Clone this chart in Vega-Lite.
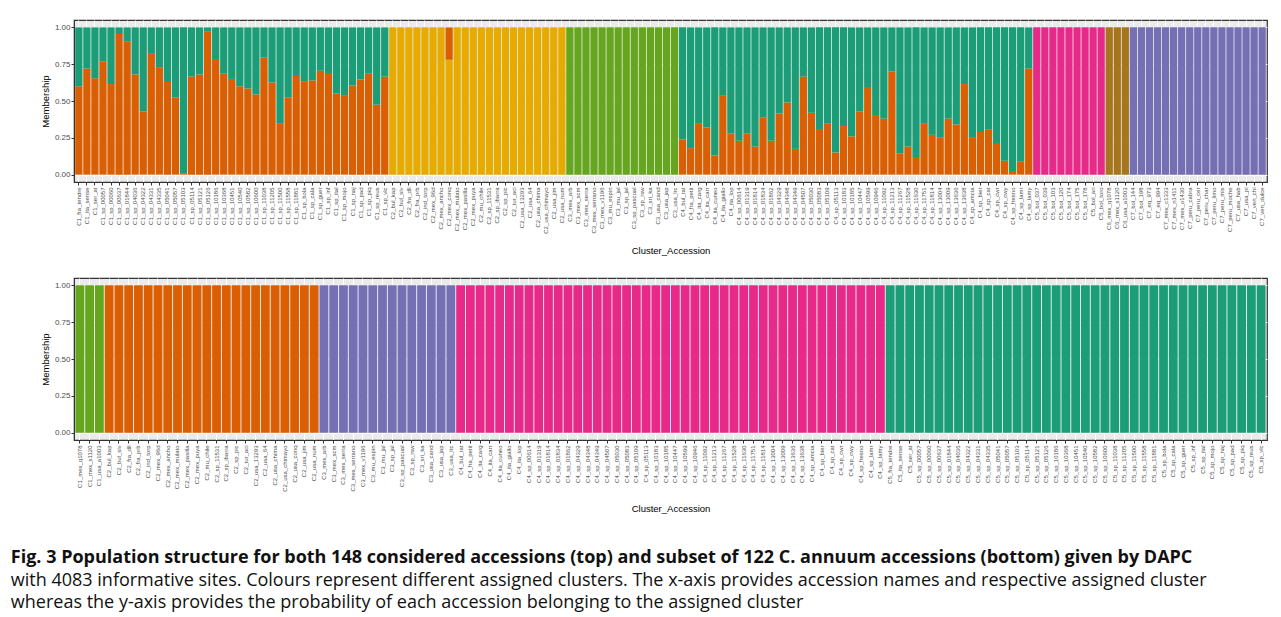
{
"$schema": "https://vega.github.io/schema/vega-lite/v6.json",
"padding": {"left": 10, "top": 19, "right": 5, "bottom": 5},
"background": "white",
"config": {
  "view": {"fill": "#EBEBEB", "stroke": "#333333", "strokeWidth": 1.2},
  "axis": {"labelFont": "Liberation Sans", "titleFont": "Liberation Sans", "labelColor": "#4D4D4D", "titleColor": "#000000", "titleFontWeight": "normal", "tickColor": "#333333", "tickSize": 3, "domainColor": "#333333", "gridColor": "#FFFFFF", "gridWidth": 1, "titleFontSize": 9.5},
  "axisX": {"labelAngle": -90, "labelFontSize": 6, "labelPadding": 2, "titlePadding": 12, "bandPosition": 0.5},
  "axisY": {"labelFontSize": 8, "labelPadding": 1, "titlePadding": 4},
  "bar": {"stroke": null}
},
"datasets": {
"top": [
{"acc":"C1_fra_tendre","k":"2","v":0.60},{"acc":"C1_fra_tendre","k":"1","v":0.40},
{"acc":"C1_ita_sense","k":"2","v":0.72},{"acc":"C1_ita_sense","k":"1","v":0.28},
{"acc":"C1_ser_at","k":"2","v":0.655},{"acc":"C1_ser_at","k":"1","v":0.345},
{"acc":"C1_sp_00057","k":"2","v":0.77},{"acc":"C1_sp_00057","k":"1","v":0.23},
{"acc":"C1_sp_00060","k":"2","v":0.615},{"acc":"C1_sp_00060","k":"1","v":0.385},
{"acc":"C1_sp_00637","k":"2","v":0.955},{"acc":"C1_sp_00637","k":"1","v":0.045},
{"acc":"C1_sp_01844","k":"2","v":0.905},{"acc":"C1_sp_01844","k":"1","v":0.095},
{"acc":"C1_sp_04036","k":"2","v":0.68},{"acc":"C1_sp_04036","k":"1","v":0.32},
{"acc":"C1_sp_04322","k":"2","v":0.43},{"acc":"C1_sp_04322","k":"1","v":0.57},
{"acc":"C1_sp_04331","k":"2","v":0.82},{"acc":"C1_sp_04331","k":"1","v":0.18},
{"acc":"C1_sp_04335","k":"2","v":0.73},{"acc":"C1_sp_04335","k":"1","v":0.27},
{"acc":"C1_sp_05041","k":"2","v":0.635},{"acc":"C1_sp_05041","k":"1","v":0.365},
{"acc":"C1_sp_05057","k":"2","v":0.525},{"acc":"C1_sp_05057","k":"1","v":0.475},
{"acc":"C1_sp_05103","k":"2","v":0.01},{"acc":"C1_sp_05103","k":"1","v":0.99},
{"acc":"C1_sp_05114","k":"2","v":0.665},{"acc":"C1_sp_05114","k":"1","v":0.335},
{"acc":"C1_sp_05121","k":"2","v":0.68},{"acc":"C1_sp_05121","k":"1","v":0.32},
{"acc":"C1_sp_05126","k":"2","v":0.97},{"acc":"C1_sp_05126","k":"1","v":0.03},
{"acc":"C1_sp_10186","k":"2","v":0.785},{"acc":"C1_sp_10186","k":"1","v":0.215},
{"acc":"C1_sp_10368","k":"2","v":0.685},{"acc":"C1_sp_10368","k":"1","v":0.315},
{"acc":"C1_sp_10451","k":"2","v":0.65},{"acc":"C1_sp_10451","k":"1","v":0.35},
{"acc":"C1_sp_10540","k":"2","v":0.60},{"acc":"C1_sp_10540","k":"1","v":0.40},
{"acc":"C1_sp_10582","k":"2","v":0.585},{"acc":"C1_sp_10582","k":"1","v":0.415},
{"acc":"C1_sp_10600","k":"2","v":0.545},{"acc":"C1_sp_10600","k":"1","v":0.455},
{"acc":"C1_sp_11038","k":"2","v":0.795},{"acc":"C1_sp_11038","k":"1","v":0.205},
{"acc":"C1_sp_11205","k":"2","v":0.625},{"acc":"C1_sp_11205","k":"1","v":0.375},
{"acc":"C1_sp_11500","k":"2","v":0.345},{"acc":"C1_sp_11500","k":"1","v":0.655},
{"acc":"C1_sp_11558","k":"2","v":0.525},{"acc":"C1_sp_11558","k":"1","v":0.475},
{"acc":"C1_sp_11881","k":"2","v":0.67},{"acc":"C1_sp_11881","k":"1","v":0.33},
{"acc":"C1_sp_bola","k":"2","v":0.635},{"acc":"C1_sp_bola","k":"1","v":0.365},
{"acc":"C1_sp_cala","k":"2","v":0.64},{"acc":"C1_sp_cala","k":"1","v":0.36},
{"acc":"C1_sp_guer","k":"2","v":0.705},{"acc":"C1_sp_guer","k":"1","v":0.295},
{"acc":"C1_sp_inf","k":"2","v":0.69},{"acc":"C1_sp_inf","k":"1","v":0.31},
{"acc":"C1_sp_ital","k":"2","v":0.55},{"acc":"C1_sp_ital","k":"1","v":0.45},
{"acc":"C1_sp_mojo","k":"2","v":0.54},{"acc":"C1_sp_mojo","k":"1","v":0.46},
{"acc":"C1_sp_naj","k":"2","v":0.605},{"acc":"C1_sp_naj","k":"1","v":0.395},
{"acc":"C1_sp_pad","k":"2","v":0.645},{"acc":"C1_sp_pad","k":"1","v":0.355},
{"acc":"C1_sp_piq","k":"2","v":0.685},{"acc":"C1_sp_piq","k":"1","v":0.315},
{"acc":"C1_sp_reus","k":"2","v":0.475},{"acc":"C1_sp_reus","k":"1","v":0.525},
{"acc":"C1_sp_vlc","k":"2","v":0.665},{"acc":"C1_sp_vlc","k":"1","v":0.335},
{"acc":"C2_bul_kap","k":"6","v":1},
{"acc":"C2_bul_siv","k":"6","v":1},
{"acc":"C2_fra_dll","k":"6","v":1},
{"acc":"C2_fra_prb","k":"6","v":1},
{"acc":"C2_ind_torp","k":"6","v":1},
{"acc":"C2_mex_96d","k":"6","v":1},
{"acc":"C2_mex_ancho","k":"6","v":1},
{"acc":"C2_mex_conq","k":"6","v":0.78},{"acc":"C2_mex_conq","k":"2","v":0.22},
{"acc":"C2_mex_mulato","k":"6","v":1},
{"acc":"C2_mex_pasilla","k":"6","v":1},
{"acc":"C2_mex_puya","k":"6","v":1},
{"acc":"C2_mu_chile","k":"6","v":1},
{"acc":"C2_sp_11531","k":"6","v":1},
{"acc":"C2_sp_ibarra","k":"6","v":1},
{"acc":"C2_sp_pic","k":"6","v":1},
{"acc":"C2_tur_aci","k":"6","v":1},
{"acc":"C2_usa_13293","k":"6","v":1},
{"acc":"C2_usa_64","k":"6","v":1},
{"acc":"C2_usa_chima","k":"6","v":1},
{"acc":"C2_usa_chimayo","k":"6","v":1},
{"acc":"C2_usa_jim","k":"6","v":1},
{"acc":"C2_usa_num","k":"6","v":1},
{"acc":"C3_mex_arb","k":"5","v":1},
{"acc":"C3_mex_scm","k":"5","v":1},
{"acc":"C3_mex_serra","k":"5","v":1},
{"acc":"C3_mex_serrano","k":"5","v":1},
{"acc":"C3_mex_v1196","k":"5","v":1},
{"acc":"C3_mu_espin","k":"5","v":1},
{"acc":"C3_mu_jal","k":"5","v":1},
{"acc":"C3_sp_jal","k":"5","v":1},
{"acc":"C3_sp_pascual","k":"5","v":1},
{"acc":"C3_sp_rsw","k":"5","v":1},
{"acc":"C3_sri_ka","k":"5","v":1},
{"acc":"C3_usa_cand","k":"5","v":1},
{"acc":"C3_usa_jap","k":"5","v":1},
{"acc":"C3_usa_lrc","k":"5","v":1},
{"acc":"C4_bul_rat","k":"2","v":0.24},{"acc":"C4_bul_rat","k":"1","v":0.76},
{"acc":"C4_fra_petit","k":"2","v":0.18},{"acc":"C4_fra_petit","k":"1","v":0.82},
{"acc":"C4_ita_carg","k":"2","v":0.35},{"acc":"C4_ita_carg","k":"1","v":0.65},
{"acc":"C4_ita_carr","k":"2","v":0.32},{"acc":"C4_ita_carr","k":"1","v":0.68},
{"acc":"C4_ita_cuneo","k":"2","v":0.13},{"acc":"C4_ita_cuneo","k":"1","v":0.87},
{"acc":"C4_ita_giallo","k":"2","v":0.54},{"acc":"C4_ita_giallo","k":"1","v":0.46},
{"acc":"C4_ita_lop","k":"2","v":0.28},{"acc":"C4_ita_lop","k":"1","v":0.72},
{"acc":"C4_sp_00614","k":"2","v":0.23},{"acc":"C4_sp_00614","k":"1","v":0.77},
{"acc":"C4_sp_01319","k":"2","v":0.28},{"acc":"C4_sp_01319","k":"1","v":0.72},
{"acc":"C4_sp_01814","k":"2","v":0.19},{"acc":"C4_sp_01814","k":"1","v":0.81},
{"acc":"C4_sp_01834","k":"2","v":0.39},{"acc":"C4_sp_01834","k":"1","v":0.61},
{"acc":"C4_sp_01862","k":"2","v":0.23},{"acc":"C4_sp_01862","k":"1","v":0.77},
{"acc":"C4_sp_04329","k":"2","v":0.415},{"acc":"C4_sp_04329","k":"1","v":0.585},
{"acc":"C4_sp_04348","k":"2","v":0.49},{"acc":"C4_sp_04348","k":"1","v":0.51},
{"acc":"C4_sp_04349","k":"2","v":0.175},{"acc":"C4_sp_04349","k":"1","v":0.825},
{"acc":"C4_sp_04507","k":"2","v":0.665},{"acc":"C4_sp_04507","k":"1","v":0.335},
{"acc":"C4_sp_05030","k":"2","v":0.42},{"acc":"C4_sp_05030","k":"1","v":0.58},
{"acc":"C4_sp_05083","k":"2","v":0.31},{"acc":"C4_sp_05083","k":"1","v":0.69},
{"acc":"C4_sp_05109","k":"2","v":0.345},{"acc":"C4_sp_05109","k":"1","v":0.655},
{"acc":"C4_sp_05113","k":"2","v":0.15},{"acc":"C4_sp_05113","k":"1","v":0.85},
{"acc":"C4_sp_10183","k":"2","v":0.33},{"acc":"C4_sp_10183","k":"1","v":0.67},
{"acc":"C4_sp_10185","k":"2","v":0.26},{"acc":"C4_sp_10185","k":"1","v":0.74},
{"acc":"C4_sp_10447","k":"2","v":0.43},{"acc":"C4_sp_10447","k":"1","v":0.57},
{"acc":"C4_sp_10599","k":"2","v":0.595},{"acc":"C4_sp_10599","k":"1","v":0.405},
{"acc":"C4_sp_10946","k":"2","v":0.405},{"acc":"C4_sp_10946","k":"1","v":0.595},
{"acc":"C4_sp_11092","k":"2","v":0.38},{"acc":"C4_sp_11092","k":"1","v":0.62},
{"acc":"C4_sp_11213","k":"2","v":0.70},{"acc":"C4_sp_11213","k":"1","v":0.30},
{"acc":"C4_sp_11267","k":"2","v":0.145},{"acc":"C4_sp_11267","k":"1","v":0.855},
{"acc":"C4_sp_11528","k":"2","v":0.19},{"acc":"C4_sp_11528","k":"1","v":0.81},
{"acc":"C4_sp_11630","k":"2","v":0.12},{"acc":"C4_sp_11630","k":"1","v":0.88},
{"acc":"C4_sp_11751","k":"2","v":0.345},{"acc":"C4_sp_11751","k":"1","v":0.655},
{"acc":"C4_sp_11814","k":"2","v":0.27},{"acc":"C4_sp_11814","k":"1","v":0.73},
{"acc":"C4_sp_13004","k":"2","v":0.25},{"acc":"C4_sp_13004","k":"1","v":0.75},
{"acc":"C4_sp_13009","k":"2","v":0.38},{"acc":"C4_sp_13009","k":"1","v":0.62},
{"acc":"C4_sp_13636","k":"2","v":0.34},{"acc":"C4_sp_13636","k":"1","v":0.66},
{"acc":"C4_sp_13638","k":"2","v":0.615},{"acc":"C4_sp_13638","k":"1","v":0.385},
{"acc":"C4_sp_amcia","k":"2","v":0.255},{"acc":"C4_sp_amcia","k":"1","v":0.745},
{"acc":"C4_sp_bier","k":"2","v":0.29},{"acc":"C4_sp_bier","k":"1","v":0.71},
{"acc":"C4_sp_cat","k":"2","v":0.305},{"acc":"C4_sp_cat","k":"1","v":0.695},
{"acc":"C4_sp_cwr","k":"2","v":0.215},{"acc":"C4_sp_cwr","k":"1","v":0.785},
{"acc":"C4_sp_cwy","k":"2","v":0.095},{"acc":"C4_sp_cwy","k":"1","v":0.905},
{"acc":"C4_sp_fresno","k":"2","v":0.025},{"acc":"C4_sp_fresno","k":"1","v":0.975},
{"acc":"C4_sp_lamr","k":"2","v":0.09},{"acc":"C4_sp_lamr","k":"1","v":0.91},
{"acc":"C4_sp_lamy","k":"2","v":0.72},{"acc":"C4_sp_lamy","k":"1","v":0.28},
{"acc":"C5_bol_037","k":"4","v":1},
{"acc":"C5_bol_039","k":"4","v":1},
{"acc":"C5_bol_103","k":"4","v":1},
{"acc":"C5_bol_120","k":"4","v":1},
{"acc":"C5_bol_174","k":"4","v":1},
{"acc":"C5_bol_175","k":"4","v":1},
{"acc":"C5_bol_178","k":"4","v":1},
{"acc":"C5_bol_ari","k":"4","v":1},
{"acc":"C5_bol_toro","k":"4","v":1},
{"acc":"C6_mex_q1078","k":"7","v":1},
{"acc":"C6_mex_s1120","k":"7","v":1},
{"acc":"C6_usa_a1003","k":"7","v":1},
{"acc":"C7_bol_144","k":"3","v":1},
{"acc":"C7_bol_198","k":"3","v":1},
{"acc":"C7_eq_973","k":"3","v":1},
{"acc":"C7_eq_994","k":"3","v":1},
{"acc":"C7_mex_c1333","k":"3","v":1},
{"acc":"C7_mex_n1411","k":"3","v":1},
{"acc":"C7_mex_o1430","k":"3","v":1},
{"acc":"C7_peru_cabra","k":"3","v":1},
{"acc":"C7_peru_cer","k":"3","v":1},
{"acc":"C7_peru_char","k":"3","v":1},
{"acc":"C7_peru_limo","k":"3","v":1},
{"acc":"C7_peru_mis","k":"3","v":1},
{"acc":"C7_peru_moche","k":"3","v":1},
{"acc":"C7_usa_hab","k":"3","v":1},
{"acc":"C7_usa_pi","k":"3","v":1},
{"acc":"C7_ven_chi","k":"3","v":1},
{"acc":"C7_ven_dulce","k":"3","v":1}
],
"bottom": [
{"acc":"C1_mex_q1078","k":"5","v":1},
{"acc":"C1_mex_s1120","k":"5","v":1},
{"acc":"C1_usa_a1003","k":"5","v":1},
{"acc":"C2_bul_kap","k":"2","v":1},
{"acc":"C2_bul_siv","k":"2","v":1},
{"acc":"C2_fra_dll","k":"2","v":1},
{"acc":"C2_fra_prb","k":"2","v":1},
{"acc":"C2_ind_torp","k":"2","v":1},
{"acc":"C2_mex_96d","k":"2","v":1},
{"acc":"C2_mex_ancho","k":"2","v":1},
{"acc":"C2_mex_mulato","k":"2","v":1},
{"acc":"C2_mex_pasilla","k":"2","v":1},
{"acc":"C2_mex_puya","k":"2","v":1},
{"acc":"C2_mu_chile","k":"2","v":1},
{"acc":"C2_sp_11531","k":"2","v":1},
{"acc":"C2_sp_ibarra","k":"2","v":1},
{"acc":"C2_sp_pic","k":"2","v":1},
{"acc":"C2_tur_aci","k":"2","v":1},
{"acc":"C2_usa_13293","k":"2","v":1},
{"acc":"C2_usa_64","k":"2","v":1},
{"acc":"C2_usa_chima","k":"2","v":1},
{"acc":"C2_usa_chimayo","k":"2","v":1},
{"acc":"C2_usa_conq","k":"2","v":1},
{"acc":"C2_usa_jim","k":"2","v":1},
{"acc":"C2_usa_num","k":"2","v":1},
{"acc":"C3_mex_arb","k":"3","v":1},
{"acc":"C3_mex_scm","k":"3","v":1},
{"acc":"C3_mex_serra","k":"3","v":1},
{"acc":"C3_mex_serrano","k":"3","v":1},
{"acc":"C3_mex_v1196","k":"3","v":1},
{"acc":"C3_mu_espin","k":"3","v":1},
{"acc":"C3_mu_jal","k":"3","v":1},
{"acc":"C3_sp_jal","k":"3","v":1},
{"acc":"C3_sp_pascual","k":"3","v":1},
{"acc":"C3_sp_rsw","k":"3","v":1},
{"acc":"C3_sri_ka","k":"3","v":1},
{"acc":"C3_usa_cand","k":"3","v":1},
{"acc":"C3_usa_jap","k":"3","v":1},
{"acc":"C3_usa_lrc","k":"3","v":1},
{"acc":"C4_bul_rat","k":"4","v":1},
{"acc":"C4_fra_petit","k":"4","v":1},
{"acc":"C4_ita_carg","k":"4","v":1},
{"acc":"C4_ita_carr","k":"4","v":1},
{"acc":"C4_ita_cuneo","k":"4","v":1},
{"acc":"C4_ita_giallo","k":"4","v":1},
{"acc":"C4_ita_lop","k":"4","v":1},
{"acc":"C4_sp_00614","k":"4","v":1},
{"acc":"C4_sp_01319","k":"4","v":1},
{"acc":"C4_sp_01814","k":"4","v":1},
{"acc":"C4_sp_01834","k":"4","v":1},
{"acc":"C4_sp_01862","k":"4","v":1},
{"acc":"C4_sp_04329","k":"4","v":1},
{"acc":"C4_sp_04348","k":"4","v":1},
{"acc":"C4_sp_04349","k":"4","v":1},
{"acc":"C4_sp_04507","k":"4","v":1},
{"acc":"C4_sp_05030","k":"4","v":1},
{"acc":"C4_sp_05083","k":"4","v":1},
{"acc":"C4_sp_05109","k":"4","v":1},
{"acc":"C4_sp_05113","k":"4","v":1},
{"acc":"C4_sp_10183","k":"4","v":1},
{"acc":"C4_sp_10185","k":"4","v":1},
{"acc":"C4_sp_10447","k":"4","v":1},
{"acc":"C4_sp_10599","k":"4","v":1},
{"acc":"C4_sp_10946","k":"4","v":1},
{"acc":"C4_sp_11092","k":"4","v":1},
{"acc":"C4_sp_11213","k":"4","v":1},
{"acc":"C4_sp_11267","k":"4","v":1},
{"acc":"C4_sp_11528","k":"4","v":1},
{"acc":"C4_sp_11630","k":"4","v":1},
{"acc":"C4_sp_11751","k":"4","v":1},
{"acc":"C4_sp_11814","k":"4","v":1},
{"acc":"C4_sp_13004","k":"4","v":1},
{"acc":"C4_sp_13009","k":"4","v":1},
{"acc":"C4_sp_13636","k":"4","v":1},
{"acc":"C4_sp_13638","k":"4","v":1},
{"acc":"C4_sp_amcia","k":"4","v":1},
{"acc":"C4_sp_bier","k":"4","v":1},
{"acc":"C4_sp_cat","k":"4","v":1},
{"acc":"C4_sp_cwr","k":"4","v":1},
{"acc":"C4_sp_cwy","k":"4","v":1},
{"acc":"C4_sp_fresno","k":"4","v":1},
{"acc":"C4_sp_lamr","k":"4","v":1},
{"acc":"C4_sp_lamy","k":"4","v":1},
{"acc":"C5_fra_tendre","k":"1","v":1},
{"acc":"C5_ita_sense","k":"1","v":1},
{"acc":"C5_ser_at","k":"1","v":1},
{"acc":"C5_sp_00057","k":"1","v":1},
{"acc":"C5_sp_00060","k":"1","v":1},
{"acc":"C5_sp_00637","k":"1","v":1},
{"acc":"C5_sp_01844","k":"1","v":1},
{"acc":"C5_sp_04036","k":"1","v":1},
{"acc":"C5_sp_04322","k":"1","v":1},
{"acc":"C5_sp_04331","k":"1","v":1},
{"acc":"C5_sp_04335","k":"1","v":1},
{"acc":"C5_sp_05041","k":"1","v":1},
{"acc":"C5_sp_05057","k":"1","v":1},
{"acc":"C5_sp_05103","k":"1","v":1},
{"acc":"C5_sp_05114","k":"1","v":1},
{"acc":"C5_sp_05121","k":"1","v":1},
{"acc":"C5_sp_05126","k":"1","v":1},
{"acc":"C5_sp_10186","k":"1","v":1},
{"acc":"C5_sp_10368","k":"1","v":1},
{"acc":"C5_sp_10451","k":"1","v":1},
{"acc":"C5_sp_10540","k":"1","v":1},
{"acc":"C5_sp_10582","k":"1","v":1},
{"acc":"C5_sp_10600","k":"1","v":1},
{"acc":"C5_sp_11038","k":"1","v":1},
{"acc":"C5_sp_11205","k":"1","v":1},
{"acc":"C5_sp_11500","k":"1","v":1},
{"acc":"C5_sp_11558","k":"1","v":1},
{"acc":"C5_sp_11881","k":"1","v":1},
{"acc":"C5_sp_bola","k":"1","v":1},
{"acc":"C5_sp_cala","k":"1","v":1},
{"acc":"C5_sp_guer","k":"1","v":1},
{"acc":"C5_sp_inf","k":"1","v":1},
{"acc":"C5_sp_ital","k":"1","v":1},
{"acc":"C5_sp_mojo","k":"1","v":1},
{"acc":"C5_sp_naj","k":"1","v":1},
{"acc":"C5_sp_pad","k":"1","v":1},
{"acc":"C5_sp_piq","k":"1","v":1},
{"acc":"C5_sp_reus","k":"1","v":1},
{"acc":"C5_sp_vlc","k":"1","v":1}
]
},
"title": {
  "text": ["Fig. 3  Population structure for both 148 considered accessions (top) and subset of 122 C. annuum accessions (bottom) given by DAPC"],
  "subtitle": ["with 4083 informative sites. Colours represent different assigned clusters. The x-axis provides accession names and respective assigned cluster", "whereas the y-axis provides the probability of each accession belonging to the assigned cluster"],
  "orient": "bottom", "anchor": "start", "frame": "bounds",
  "font": "Open Sans", "fontSize": 18, "fontWeight": "bold", "color": "#111111",
  "subtitleFont": "Open Sans", "subtitleFontSize": 18, "subtitleColor": "#111111", "subtitleFontWeight": "normal",
  "lineHeight": 22, "subtitleLineHeight": 22, "subtitlePadding": 5, "offset": 36, "dx": -29
},
"vconcat": [
  {
    "data": {"name": "top"},
    "width": 1193, "height": 162,
    "mark": {"type": "bar"},
    "encoding": {
      "x": {"field": "acc", "type": "nominal", "sort": null, "title": "Cluster_Accession",
            "scale": {"paddingInner": 0.1, "paddingOuter": 0.15},
            "axis": {"grid": true}},
      "y": {"field": "v", "type": "quantitative", "stack": "zero", "title": "Membership",
            "scale": {"domain": [-0.05, 1.05], "nice": false, "zero": false},
            "axis": {"values": [0, 0.25, 0.5, 0.75, 1], "format": ".2f", "grid": true}},
      "color": {"field": "k", "type": "nominal", "legend": null,
                "scale": {"domain": ["1","2","3","4","5","6","7"], "range": ["#1B9E77","#D95F02","#7570B3","#E7298A","#66A61E","#E6AB02","#A6761D"]}},
      "order": {"field": "k", "sort": "descending"}
    }
  },
  {
    "data": {"name": "bottom"},
    "width": 1193, "height": 162,
    "mark": {"type": "bar"},
    "encoding": {
      "x": {"field": "acc", "type": "nominal", "sort": null, "title": "Cluster_Accession",
            "scale": {"paddingInner": 0.1, "paddingOuter": 0.15},
            "axis": {"grid": true}},
      "y": {"field": "v", "type": "quantitative", "stack": "zero", "title": "Membership",
            "scale": {"domain": [-0.05, 1.05], "nice": false, "zero": false},
            "axis": {"values": [0, 0.25, 0.5, 0.75, 1], "format": ".2f", "grid": true}},
      "color": {"field": "k", "type": "nominal", "legend": null,
                "scale": {"domain": ["1","2","3","4","5","6","7"], "range": ["#1B9E77","#D95F02","#7570B3","#E7298A","#66A61E","#E6AB02","#A6761D"]}},
      "order": {"field": "k", "sort": "descending"}
    }
  }
],
"resolve": {"scale": {"x": "independent", "y": "independent"}},
"spacing": 21
}
